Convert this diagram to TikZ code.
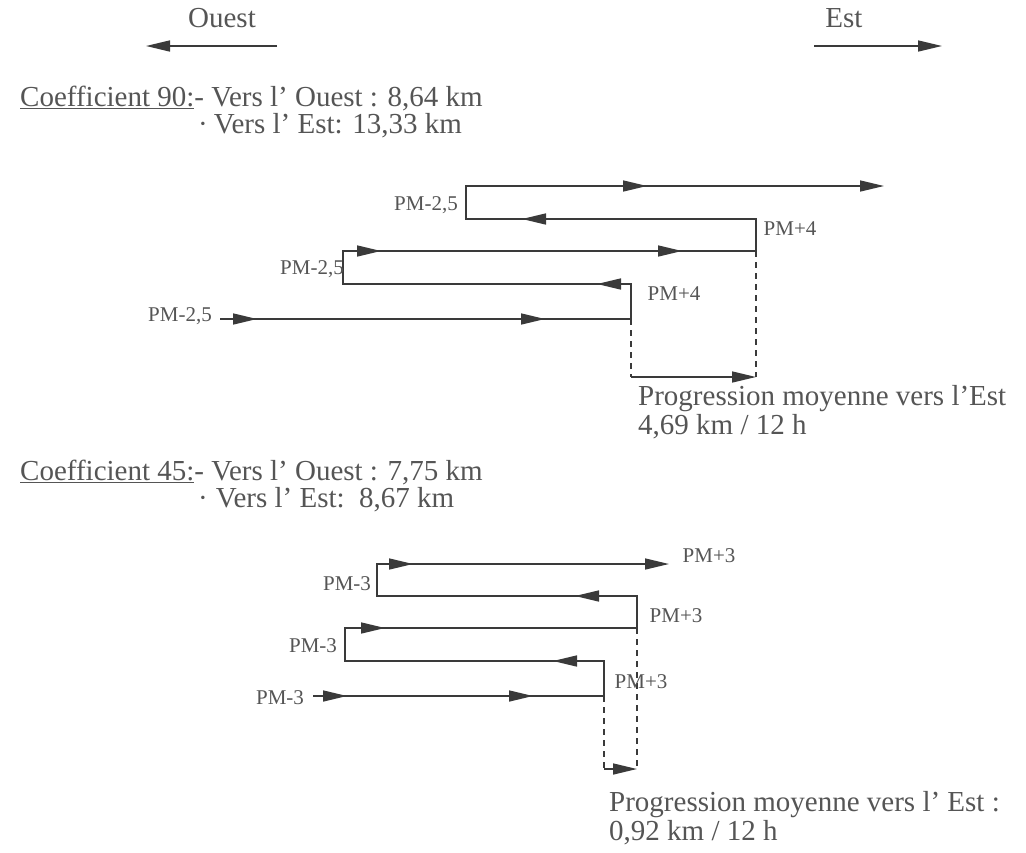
\documentclass[tikz,border=0pt]{standalone}
\usepackage{fontspec}
\setmainfont{Liberation Serif}
\usetikzlibrary{arrows.meta,calc}
\definecolor{linecol}{HTML}{3A3A3A}
\definecolor{txtcol}{HTML}{555555}
\tikzset{
  tri/.tip={Triangle[length=24pt,width=11pt]},
  ln/.style={draw=linecol,line width=1.6pt},
  dsh/.style={draw=linecol,line width=1.6pt,dash pattern=on 6pt off 5pt},
  big/.style={text=txtcol,font=\fontsize{29}{29}\selectfont,inner sep=0pt,anchor=base west},
  lab/.style={text=txtcol,font=\fontsize{21}{21}\selectfont,inner sep=0pt,anchor=base},
}
\newcommand\harr[2]{\draw[ln,-tri] ($(#1)+(#2,0)$) -- (#1);}
\begin{document}
\begin{tikzpicture}[x=1pt,y=-1pt]
\useasboundingbox (0,0) rectangle (1026,852);

% compass
\node[big,anchor=base] (ouest) at (222,27) {Ouest};
\node[big,anchor=base] (est) at (844,27) {Est};
\coordinate (o1) at (277,46); \coordinate (o2) at (146,46);
\coordinate (s1) at (814,46); \coordinate (s2) at (942,46);
\draw[ln,-tri] (o1) -- (o2);
\draw[ln,-tri] (s1) -- (s2);

% block 1 text
\node[big] (c90a) at (20,106) {\underline{Coefficient 90:}- Vers l' Ouest : 8,64 km};
\node[big] (c90b) at (198,133) {·\hspace{6pt}Vers l' Est: 13,33 km};

% diagram 1
\coordinate (a1) at (466,186); \coordinate (a2) at (884,186);
\coordinate (b1) at (466,219); \coordinate (b2) at (756,219);
\coordinate (c1) at (343,251); \coordinate (c2) at (756,251);
\coordinate (d1) at (343,284); \coordinate (d2) at (631,284);
\coordinate (e1) at (220,319); \coordinate (e2) at (631,319);
\coordinate (f1) at (631,377); \coordinate (f2) at (756,377);
\coordinate (ta) at (647,186);
\coordinate (tb) at (522,219);
\coordinate (tc1) at (381,251); \coordinate (tc2) at (682,251);
\coordinate (td) at (597,284);
\coordinate (te1) at (257,319); \coordinate (te2) at (545,319);
\draw[ln,-tri] (e1) -- (e2) -- (d2) -- (d1) -- (c1) -- (c2) -- (b2) -- (b1) -- (a1) -- (a2);
\harr{ta}{-30} \harr{tb}{30} \harr{tc1}{-30} \harr{tc2}{-30}
\harr{td}{30} \harr{te1}{-30} \harr{te2}{-30}
\draw[dsh] (e2) -- (f1);
\draw[dsh] (c2) -- (f2);
\draw[ln,-tri] (f1) -- (f2);

\node[lab] (l1) at (426,210) {PM-2,5};
\node[lab] (l2) at (790,235) {PM+4};
\node[lab] (l3) at (312,274) {PM-2,5};
\node[lab] (l4) at (674,300) {PM+4};
\node[lab] (l5) at (180,321) {PM-2,5};

\node[big] (p1a) at (638,405) {Progression moyenne vers l'Est};
\node[big] (p1b) at (638,434) {4,69 km / 12 h};

% block 2 text
\node[big] (c45a) at (20,480) {\underline{Coefficient 45:}- Vers l' Ouest : 7,75 km};
\node[big] (c45b) at (198,507) {·\hspace{8pt}Vers l' Est:\ \ 8,67 km};

% diagram 2
\coordinate (A1) at (377,564); \coordinate (A2) at (669,564);
\coordinate (B1) at (377,596); \coordinate (B2) at (637,596);
\coordinate (C1) at (345,628); \coordinate (C2) at (637,628);
\coordinate (D1) at (345,661); \coordinate (D2) at (604,661);
\coordinate (E1) at (313,696); \coordinate (E2) at (604,696);
\coordinate (F1) at (604,769); \coordinate (F2) at (637,769);
\coordinate (tA) at (413,564);
\coordinate (tB) at (575,596);
\coordinate (tC) at (385,628);
\coordinate (tD) at (553,661);
\coordinate (tE1) at (347,696); \coordinate (tE2) at (533,696);
\draw[ln,-tri] (E1) -- (E2) -- (D2) -- (D1) -- (C1) -- (C2) -- (B2) -- (B1) -- (A1) -- (A2);
\harr{tA}{-30} \harr{tB}{30} \harr{tC}{-30} \harr{tD}{30}
\harr{tE1}{-30} \harr{tE2}{-30}
\draw[dsh] (E2) -- (F1);
\draw[dsh] (C2) -- (F2);
\draw[ln,-tri] (F1) -- (F2);

\node[lab] (m1) at (709,562) {PM+3};
\node[lab] (m2) at (347,590) {PM-3};
\node[lab] (m3) at (676,622) {PM+3};
\node[lab] (m4) at (313,652) {PM-3};
\node[lab] (m5) at (641,688) {PM+3};
\node[lab] (m6) at (280,704) {PM-3};

\node[big] (p2a) at (609,811) {Progression moyenne vers l' Est :};
\node[big] (p2b) at (609,840) {0,92 km / 12 h};
\end{tikzpicture}
\end{document}
